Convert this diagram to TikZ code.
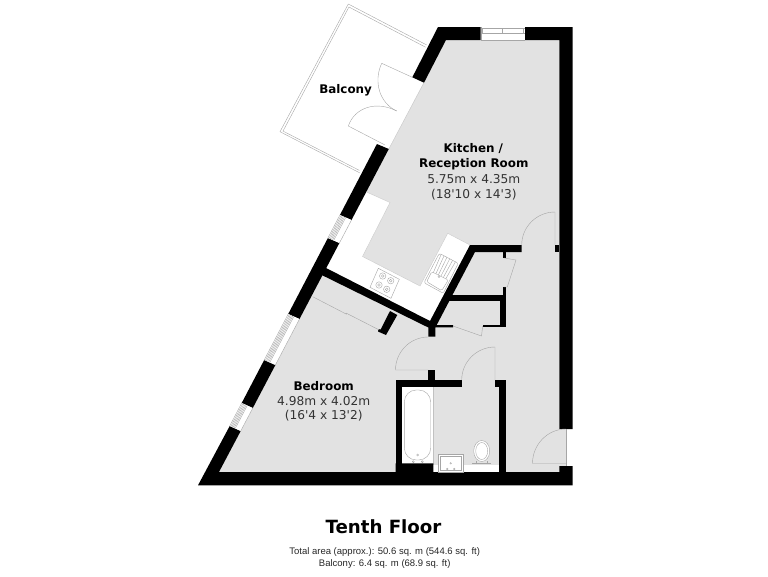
\documentclass[tikz,border=0pt]{standalone}
\usepackage{fontspec}
\setmainfont{DejaVu Sans}
\newfontfamily\footfont{Liberation Sans}
\usetikzlibrary{calc}
\definecolor{floorgray}{HTML}{E2E2E2}
\definecolor{linegray}{HTML}{A6A6A6}
\tikzset{
    wall/.style={fill=black,draw=none},
    thinline/.style={draw=linegray,line width=0.4pt},
    roomname/.style={font=\fontsize{11.9}{14}\selectfont\bfseries,text=black},
    roomsize/.style={font=\fontsize{12.2}{14}\selectfont,text=black!80},
    footline/.style={font=\fontsize{9.5}{11}\footfont,text=black!85}
}
% hinge, tip of the leaf, end of the swing
\newcommand{\doorswing}[3]{
    \draw [thinline] (#1) -- (#2) .. controls ($(#2)+0.5523*(#3)-0.5523*(#1)$) and ($(#3)+0.5523*(#2)-0.5523*(#1)$) .. (#3);
}
\begin{document}
\begin{tikzpicture}[x=1pt,y=-1pt]
    \useasboundingbox (0,0) rectangle (768,576);

    % floor
    \fill [floorgray] (446,40) -- (559,40) -- (559,430) -- (566,430) -- (566,472) -- (219,472) -- cycle;

    % white parts
    \fill [white] (366.5,192) -- (390,202.5) -- (362.5,256.5) -- (420,286) -- (447.7,233.3) -- (470,245) -- (430,321) -- (326,268) -- cycle;
    \fill [white] (402,386) rectangle (433.3,464);
    \fill [white] (433.3,465) rectangle (499,472);
    \fill [white] (566,429) rectangle (572,466);
    \draw [thinline,draw=linegray!70] (433.3,386) -- (433.3,465);
    \draw [thinline,draw=linegray!60] (366.5,192) -- (390,202.5) -- (362.5,256.5) -- (420,286) -- (447.7,233.3) -- (470,245);
    \draw [thinline,draw=linegray!60] (424,82.7) -- (388.8,149);

    % balcony
    \draw [thinline] (348.3,4) -- (426.7,45) (360,173) -- (280,131.7) -- (348.3,4);
    \draw [thinline] (348.9,7) -- (425.6,47.2) (359.4,170.4) -- (283,131.1) -- (348.9,7);

    % outer walls
    \fill [wall] (438,27) -- (480.7,27) -- (480.7,40) -- (446,40) -- (424,82.7) -- (412.3,77.3) -- cycle;
    \fill [wall] (525,27) -- (572.5,27) -- (572.5,429) -- (559.3,429) -- (559.3,40) -- (525,40) -- cycle;
    \fill [wall] (376.9,144) -- (388.8,149) -- (351.5,220) -- (339.9,215) -- cycle;
    \fill [wall] (327.9,238) -- (339.4,243) -- (299.5,319) -- (288.2,314) -- cycle;
    \fill [wall] (264.2,360) -- (275.4,365) -- (252.8,408) -- (241.7,403) -- cycle;
    \fill [wall] (229.7,426) -- (240.7,431) -- (219,472) -- (395.7,472) -- (395.7,463.3) -- (433.3,463.3) -- (433.3,472) -- (559.3,472) -- (559.3,466) -- (572.5,466) -- (572.5,485.3) -- (198,485.3) -- cycle;

    % inner walls
    \fill [wall] (326,268) -- (430,321) -- (470,245) -- (521.7,245) -- (521.7,252) -- (475,252) -- (436.7,325) -- (453,325) -- (453,327.3) -- (435.3,327.3) -- (435.3,336.7) -- (428.3,336.7) -- (428.3,327.5) -- (321.7,275) -- cycle;
    \fill [wall] (555,245) rectangle (559.3,252);
    \fill [wall] (503.3,252) rectangle (506,258);
    \fill [wall] (503.3,287) rectangle (505.7,295);
    \fill [wall] (448,294.5) rectangle (505.7,300.5);
    \fill [wall] (499.5,300) rectangle (505.7,327.3);
    \fill [wall] (482.7,325) rectangle (505.7,327.3);
    \fill [wall] (390,311) -- (397.3,315) -- (386,335) -- (378,331.5) -- (378.6,329) -- (380.6,329.6) -- cycle;

    % bathroom walls
    \fill [wall] (428.3,370) rectangle (435,381);
    \fill [wall] (395.7,380) rectangle (461.7,386.7);
    \fill [wall] (395.7,380) rectangle (402.3,472);
    \fill [wall] (495,380) rectangle (505.7,386.7);
    \fill [wall] (499,380) rectangle (505.7,472);

    % windows
    \foreach \ax/\ay/\bx/\by/\cx/\cy/\dx/\dy in {339.9/215/327.9/238/351.5/220/339.4/243,
            288.2/314/264.2/360/299.5/319/275.4/365,
            241.7/403/229.7/426/252.8/408/240.7/431} {
        \fill [white] (\ax,\ay) -- (\bx,\by) -- (\dx,\dy) -- (\cx,\cy) -- cycle;
        \foreach \f in {0,0.1,0.2,0.3,0.4,0.5,1} {
            \draw [thinline] ($(\ax,\ay)!\f!(\cx,\cy)$) -- ($(\bx,\by)!\f!(\dx,\dy)$);
        }
    }
    \fill [white] (480.7,27) rectangle (525,40);
    \draw [thinline] (480.7,28) -- (525,28) (480.7,33) -- (525,33) (480.7,39.7) -- (525,39.7);
    \draw [thinline] (480.7,27) -- (480.7,40) (502.5,28) -- (502.5,33) (523.5,28) -- (523.5,33) (482,28) -- (482,33);

    % doors
    \doorswing{412.3,77.3}{381.7,63.3}{396.7,111}
    \doorswing{385,145}{348.3,126}{396.7,111}
    \doorswing{555,245}{555,212}{521.7,245}
    \doorswing{428.3,370}{395.5,370}{428.3,337}
    \doorswing{495,380}{495,347}{461.7,380}
    \doorswing{566,463.5}{532.5,463.5}{566,429}
    \draw [thinline] (566,429) -- (566,466);

    % sliding doors
    \draw [thinline] (312.7,296.7) -- (346.7,314.3) (346,313) -- (379.3,330);
    \draw [thinline] (504,258) -- (516,260) -- (507.3,287) -- (504,287);
    \draw [thinline] (453,326) -- (481.5,336) -- (482.7,326);

    % hob
    \draw [thinline] (378.3,268.3) -- (399.3,279.3) -- (391,298.3) -- (370,287.3) -- cycle;
    \foreach \x/\y in {382.7/276,390.7/280.7,379/285,386.7/289.3} {
        \draw [thinline] (\x,\y) circle [radius=3.2pt];
        \draw [thinline] (\x,\y) circle [radius=1.4pt];
    }

    % sink
    \draw [thinline,rounded corners=2pt] (439.3,253.3) -- (458.3,263.3) -- (443.3,293.3) -- (424,282.7) -- cycle;
    \draw [thinline,rounded corners=1.5pt] (431.7,271.7) -- (448.3,280) -- (441.7,290.7) -- (426.7,281.7) -- cycle;
    \draw [thinline] (439,276.7) circle [radius=1pt];
    \foreach \f in {0.1,0.25,0.4,0.55,0.7,0.85} {
        \draw [thinline] ($(439.3,253.3)!\f!(458.3,263.3)$) -- ($(431.7,271.7)!\f!(448.3,280)$);
    }

    % bath
    \draw [thinline,rounded corners=12pt] (404.3,390) rectangle (430.7,460);
    \foreach \x/\y in {413.3/461.7,422.3/461.7,417.7/455} {
        \draw [thinline] (\x,\y) circle [radius=1pt];
    }

    % basin
    \fill [white] (438.3,454.3) rectangle (463.3,471.7);
    \draw [thinline] (438.3,454.3) rectangle (463.3,471.7);
    \draw [thinline] (440,456) rectangle (461.6,470);
    \foreach \x/\y in {447.3/469,454.3/469,450.7/463.3} {
        \draw [thinline] (\x,\y) circle [radius=0.8pt];
    }

    % toilet
    \draw [thinline,fill=white] (481.7,451) ellipse [x radius=8pt,y radius=10.5pt];
    \draw [thinline] (481.7,451) ellipse [x radius=6pt,y radius=8.5pt];
    \draw [thinline] (472.3,463.3) -- (491,463.3) (476,461) -- (476,463.3) (487.5,461) -- (487.5,463.3);

    % texts
    \node (balcony) at (345.6,89.8) [roomname] {Balcony};
    \node (kitchen) at (473.3,148.2) [roomname] {Kitchen /};
    \node (reception) at (473.8,163.9) [roomname] {Reception Room};
    \node (kitchensize) at (473.8,178.9) [roomsize] {5.75m x 4.35m};
    \node (kitchenfeet) at (473.8,194.6) [roomsize] {(18\textquotesingle 10 x 14\textquotesingle 3)};
    \node (bedroom) at (323.7,385.6) [roomname] {Bedroom};
    \node (bedroomsize) at (323.7,400.6) [roomsize] {4.98m x 4.02m};
    \node (bedroomfeet) at (323.7,415.9) [roomsize] {(16\textquotesingle 4 x 13\textquotesingle 2)};
    \node (title) at (383.5,526.7) [font=\fontsize{18.2}{21}\selectfont\bfseries] {Tenth Floor};
    \node (total) at (384.7,551.7) [footline] {Total area (approx.): 50.6 sq. m (544.6 sq. ft)};
    \node (balconyarea) at (384.7,564) [footline] {Balcony: 6.4 sq. m (68.9 sq. ft)};
\end{tikzpicture}
\end{document}
